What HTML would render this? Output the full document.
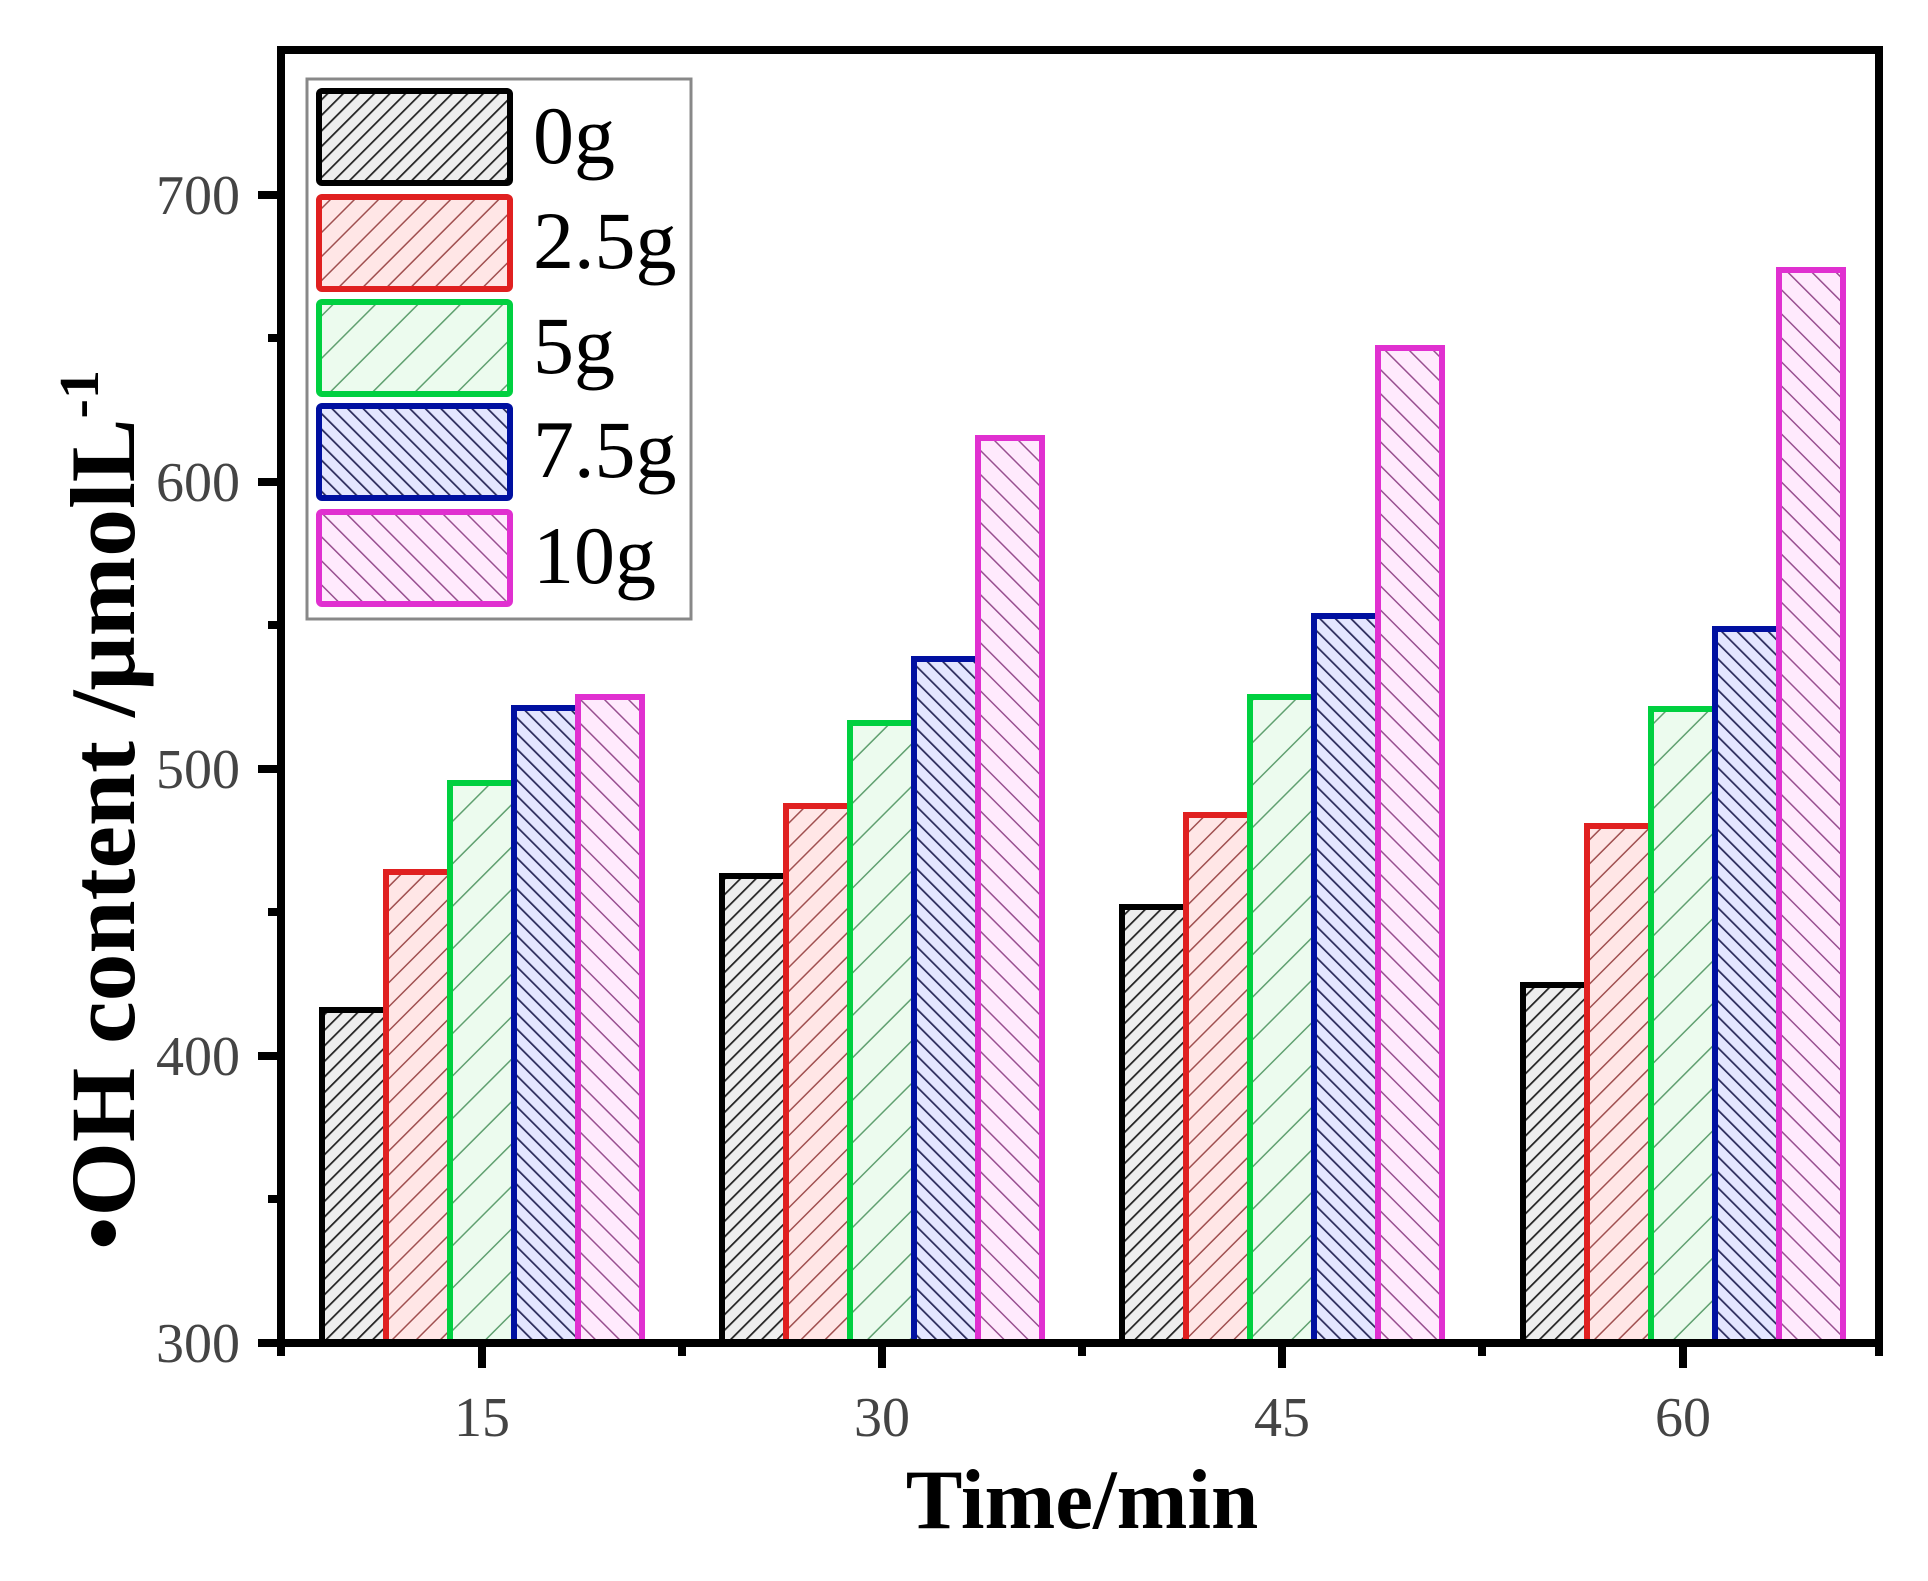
<!DOCTYPE html>
<html><head><meta charset="utf-8"><style>html,body{margin:0;padding:0;background:#fff}svg{display:block}</style></head>
<body>
<svg width="1928" height="1581" viewBox="0 0 1928 1581" xmlns="http://www.w3.org/2000/svg" font-family="Liberation Serif, serif">
<defs>
<pattern id="p0" patternUnits="userSpaceOnUse" width="11" height="11" patternTransform="rotate(45)"><rect width="11" height="11" fill="#eeeeee"/><line x1="0" y1="0" x2="0" y2="11" stroke="#222" stroke-width="3.5"/></pattern>
<pattern id="p1" patternUnits="userSpaceOnUse" width="17" height="17" patternTransform="rotate(45)"><rect width="17" height="17" fill="#ffe6e6"/><line x1="0" y1="0" x2="0" y2="17" stroke="#a05050" stroke-width="3"/></pattern>
<pattern id="p2" patternUnits="userSpaceOnUse" width="30" height="30" patternTransform="rotate(45)"><rect width="30" height="30" fill="#ecfbee"/><line x1="0" y1="0" x2="0" y2="30" stroke="#60a070" stroke-width="3"/></pattern>
<pattern id="p3" patternUnits="userSpaceOnUse" width="11" height="11" patternTransform="rotate(-45)"><rect width="11" height="11" fill="#e4e6ff"/><line x1="0" y1="0" x2="0" y2="11" stroke="#2a2a5a" stroke-width="3.5"/></pattern>
<pattern id="p4" patternUnits="userSpaceOnUse" width="17" height="17" patternTransform="rotate(-45)"><rect width="17" height="17" fill="#ffeafd"/><line x1="0" y1="0" x2="0" y2="17" stroke="#985090" stroke-width="3"/></pattern>
</defs>
<rect width="1928" height="1581" fill="#fff"/>
<g stroke-width="6">
<rect x="322" y="1010" width="64" height="333" fill="url(#p0)" stroke="#000"/>
<rect x="386" y="872" width="64" height="471" fill="url(#p1)" stroke="#e02020"/>
<rect x="450" y="783" width="64" height="560" fill="url(#p2)" stroke="#00d040"/>
<rect x="514" y="708" width="64" height="635" fill="url(#p3)" stroke="#0010a0"/>
<rect x="578" y="697" width="64" height="646" fill="url(#p4)" stroke="#e030d0"/>
<rect x="722" y="876" width="64" height="467" fill="url(#p0)" stroke="#000"/>
<rect x="786" y="806" width="64" height="537" fill="url(#p1)" stroke="#e02020"/>
<rect x="850" y="723" width="64" height="620" fill="url(#p2)" stroke="#00d040"/>
<rect x="914" y="659" width="64" height="684" fill="url(#p3)" stroke="#0010a0"/>
<rect x="978" y="438" width="64" height="905" fill="url(#p4)" stroke="#e030d0"/>
<rect x="1122" y="907" width="64" height="436" fill="url(#p0)" stroke="#000"/>
<rect x="1186" y="815" width="64" height="528" fill="url(#p1)" stroke="#e02020"/>
<rect x="1250" y="697" width="64" height="646" fill="url(#p2)" stroke="#00d040"/>
<rect x="1314" y="616" width="64" height="727" fill="url(#p3)" stroke="#0010a0"/>
<rect x="1378" y="348" width="64" height="995" fill="url(#p4)" stroke="#e030d0"/>
<rect x="1523" y="985" width="64" height="358" fill="url(#p0)" stroke="#000"/>
<rect x="1587" y="826" width="64" height="517" fill="url(#p1)" stroke="#e02020"/>
<rect x="1651" y="709" width="64" height="634" fill="url(#p2)" stroke="#00d040"/>
<rect x="1715" y="629" width="64" height="714" fill="url(#p3)" stroke="#0010a0"/>
<rect x="1779" y="270" width="64" height="1073" fill="url(#p4)" stroke="#e030d0"/>
</g>
<rect x="281" y="50" width="1598" height="1293" fill="none" stroke="#000" stroke-width="8"/>
<g stroke="#000" stroke-width="8">
<line x1="258" y1="1343" x2="281" y2="1343"/><line x1="258" y1="1056" x2="281" y2="1056"/><line x1="258" y1="769" x2="281" y2="769"/><line x1="258" y1="482" x2="281" y2="482"/><line x1="258" y1="195" x2="281" y2="195"/>
<line x1="268" y1="1199" x2="281" y2="1199"/><line x1="268" y1="912" x2="281" y2="912"/><line x1="268" y1="625" x2="281" y2="625"/><line x1="268" y1="338" x2="281" y2="338"/>
<line x1="482" y1="1343" x2="482" y2="1368"/><line x1="882" y1="1343" x2="882" y2="1368"/><line x1="1282" y1="1343" x2="1282" y2="1368"/><line x1="1683" y1="1343" x2="1683" y2="1368"/>
<line x1="281" y1="1343" x2="281" y2="1356"/><line x1="682" y1="1343" x2="682" y2="1356"/><line x1="1082" y1="1343" x2="1082" y2="1356"/><line x1="1482" y1="1343" x2="1482" y2="1356"/><line x1="1879" y1="1343" x2="1879" y2="1356"/>
</g>
<g font-size="56" fill="#444" text-anchor="end">
<text x="240" y="1362">300</text><text x="240" y="1075">400</text><text x="240" y="788">500</text><text x="240" y="501">600</text><text x="240" y="214">700</text>
</g>
<g font-size="56" fill="#444" text-anchor="middle">
<text x="482" y="1436">15</text><text x="882" y="1436">30</text><text x="1282" y="1436">45</text><text x="1683" y="1436">60</text>
</g>
<text x="1082" y="1528" font-size="85" font-weight="bold" text-anchor="middle">Time/min</text>
<text transform="translate(134,1250) rotate(-90)" font-size="92" font-weight="bold" textLength="880" lengthAdjust="spacingAndGlyphs">•OH content /μmolL<tspan font-size="56" dy="-36">-1</tspan></text>
<rect x="307" y="79" width="384" height="540" fill="#fff" stroke="#888" stroke-width="3"/>
<g stroke-width="6">
<rect x="319" y="91" width="191" height="92" rx="3" fill="url(#p0)" stroke="#000"/>
<rect x="319" y="197" width="191" height="92" rx="3" fill="url(#p1)" stroke="#e02020"/>
<rect x="319" y="302" width="191" height="92" rx="3" fill="url(#p2)" stroke="#00d040"/>
<rect x="319" y="406" width="191" height="92" rx="3" fill="url(#p3)" stroke="#0010a0"/>
<rect x="319" y="512" width="191" height="92" rx="3" fill="url(#p4)" stroke="#e030d0"/>
</g>
<g font-size="82" fill="#000">
<text x="533" y="163">0g</text><text x="533" y="268">2.5g</text><text x="533" y="373">5g</text><text x="533" y="477">7.5g</text><text x="533" y="583">10g</text>
</g>
</svg>
</body></html>
